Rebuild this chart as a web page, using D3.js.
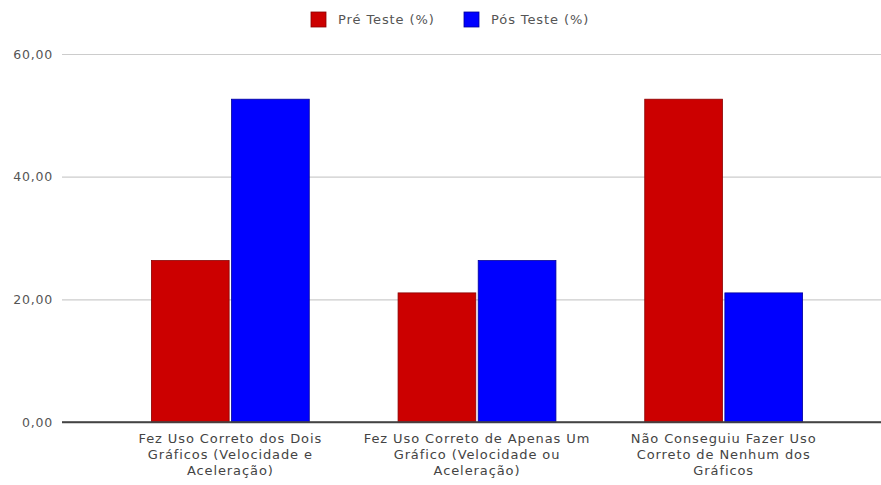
<!DOCTYPE html>
<html>
<head>
<meta charset="utf-8">
<script src="https://cdn.jsdelivr.net/npm/d3@7"></script>
<style>
  html, body { margin: 0; padding: 0; background: #fff; }
  svg { display: block; font-family: "DejaVu Sans", "Noto Sans", sans-serif; }
</style>
</head>
<body>
<svg id="chart" width="881" height="485"></svg>
<script>
// Category labels (each entry is a list of wrapped lines)
const categories = [
  ["Fez Uso Correto dos Dois", "Gráficos (Velocidade e", "Aceleração)"],
  ["Fez Uso Correto de Apenas Um", "Gráfico (Velocidade ou", "Aceleração)"],
  ["Não Conseguiu Fazer Uso", "Correto de Nenhum dos", "Gráficos"]
];
const seriesNames = ["Pré Teste (%)", "Pós Teste (%)"];
const preTeste = [26.32, 21.05, 52.63];
const posTeste = [52.63, 26.32, 21.05];
const yTicks = [0, 20, 40, 60];
const yTickLabels = ["0,00", "20,00", "40,00", "60,00"];

const colors = ["#cc0000", "#0000ff"];
const strokes = ["#8a0000", "#00009a"];

const svg = d3.select("#chart");
const catIds = categories.map((c, i) => i);

const x0 = d3.scaleBand().domain(catIds).range([107, 847])
  .paddingInner(0.36).paddingOuter(0.18);
const x1 = d3.scaleBand().domain([0, 1]).range([0, x0.bandwidth()]).paddingInner(0.03);
const y = d3.scaleLinear().domain([0, 60]).range([422, 54]);

// Gridlines and y labels
const yAxis = d3.axisLeft(y).tickValues(yTicks)
  .tickFormat((d, i) => yTickLabels[i]).tickSize(0).tickPadding(9);
const gy = svg.append("g").attr("transform", "translate(62,0)").call(yAxis);
gy.select(".domain").remove();
gy.selectAll("text").attr("fill", "#555").style("font-size", "12.5px")
  .style("letter-spacing", "0.8px")
  .style("font-family", "'DejaVu Sans', sans-serif");
gy.selectAll(".tick").append("line")
  .attr("x1", 0).attr("x2", 819)
  .attr("stroke", d => d === 0 ? "#444" : "#ccc")
  .attr("stroke-width", d => d === 0 ? 1.3 : 1.2);

// Bars
const data = catIds.map(i => [preTeste[i], posTeste[i]]);
const groups = svg.append("g").selectAll("g").data(data).join("g")
  .attr("transform", (d, i) => `translate(${x0(i)},0)`);
groups.selectAll("rect").data(d => d.map((v, s) => ({ v, s }))).join("rect")
  .attr("x", d => x1(d.s))
  .attr("width", x1.bandwidth())
  .attr("y", d => y(d.v))
  .attr("height", d => y(0) - y(d.v))
  .attr("fill", d => colors[d.s])
  .attr("stroke", d => strokes[d.s])
  .attr("stroke-width", 0.8);

// Redraw baseline on top
svg.append("line").attr("x1", 62).attr("x2", 881)
  .attr("y1", y(0)).attr("y2", y(0)).attr("stroke", "#444").attr("stroke-width", 1.3);

// Category labels
const xl = svg.append("g");
categories.forEach((lines, i) => {
  const cx = x0(i) + x0.bandwidth() / 2;
  lines.forEach((ln, j) => {
    xl.append("text")
      .attr("x", cx)
      .attr("y", 443 + j * 16)
      .attr("text-anchor", "middle")
      .attr("fill", "#444")
      .style("font-size", "13px")
      .style("letter-spacing", "0.9px")
      .text(ln);
  });
});

// Legend
const legendX = [311, 464];
const lg = svg.append("g");
seriesNames.forEach((name, i) => {
  lg.append("rect").attr("x", legendX[i]).attr("y", 12).attr("width", 15).attr("height", 15)
    .attr("fill", colors[i]).attr("stroke", strokes[i]).attr("stroke-width", 0.8);
  lg.append("text").attr("x", legendX[i] + 27).attr("y", 24)
    .attr("fill", "#555").style("font-size", "13px").style("letter-spacing", "0.9px").text(name);
});
</script>
</body>
</html>
